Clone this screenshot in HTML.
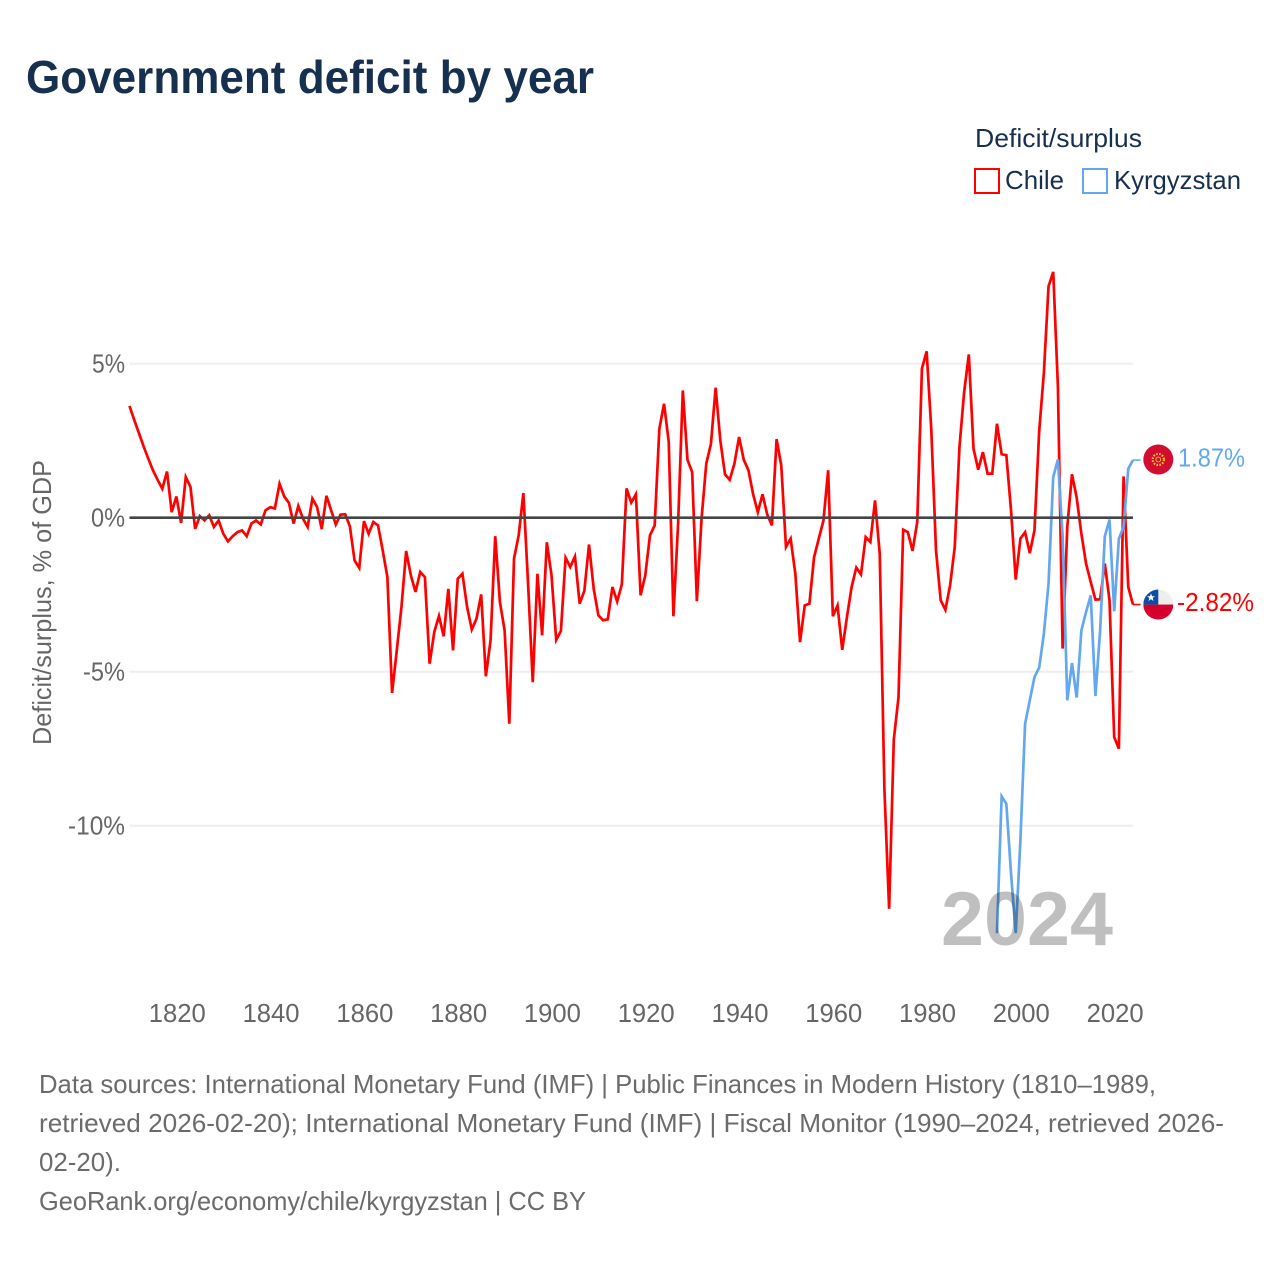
<!DOCTYPE html>
<html lang="en">
<head>
<meta charset="utf-8">
<title>Government deficit by year</title>
<style>
html,body{margin:0;padding:0;background:#fff;}
svg{display:block;font-family:"Liberation Sans",sans-serif;}
</style>
</head>
<body>
<svg id="chart" xmlns="http://www.w3.org/2000/svg" width="1280" height="1280" viewBox="0 0 1280 1280">
  <defs>
    <clipPath id="flag-clip-cl"><circle cx="1158.3" cy="0" r="15"/></clipPath>
  </defs>
  <rect x="0" y="0" width="1280" height="1280" fill="#fff"/>
  <text x="26" y="93" font-size="46" font-weight="700" fill="#18304f" textLength="568" lengthAdjust="spacingAndGlyphs">Government deficit by year</text>

  <g>
    <text x="975" y="147" font-size="26" fill="#18304f" textLength="167" lengthAdjust="spacingAndGlyphs">Deficit/surplus</text>
    <g>
      <rect x="975" y="169" width="24" height="24" fill="none" stroke="#ff0000" stroke-width="2"/>
      <text x="1005" y="189" font-size="26" fill="#18304f" textLength="59" lengthAdjust="spacingAndGlyphs">Chile</text>
    </g>
    <g>
      <rect x="1083" y="169" width="24" height="24" fill="none" stroke="#63a8ee" stroke-width="2"/>
      <text x="1114" y="189" font-size="26" fill="#18304f" textLength="127" lengthAdjust="spacingAndGlyphs">Kyrgyzstan</text>
    </g>
  </g>

  <text x="0" y="0" transform="translate(51 745) rotate(-90)" font-size="26" fill="#666" textLength="285" lengthAdjust="spacingAndGlyphs">Deficit/surplus, % of GDP</text>

  <g id="grid"></g>
  <g id="yticks"></g>
  <g id="xticks"></g>
  <g id="series"></g>
  <g id="zero"></g>
  <text x="941" y="945" font-size="76" font-weight="700" fill="#000" fill-opacity="0.25" textLength="172" lengthAdjust="spacingAndGlyphs">2024</text>
  <g id="ends"></g>

  <g font-size="26" fill="#6b6b6b">
    <text x="39" y="1093" textLength="1117" lengthAdjust="spacingAndGlyphs">Data sources: International Monetary Fund (IMF) | Public Finances in Modern History (1810–1989,</text>
    <text x="39" y="1132" textLength="1185" lengthAdjust="spacingAndGlyphs">retrieved 2026-02-20); International Monetary Fund (IMF) | Fiscal Monitor (1990–2024, retrieved 2026-</text>
    <text x="39" y="1171" textLength="82" lengthAdjust="spacingAndGlyphs">02-20).</text>
    <text x="39" y="1210" textLength="547" lengthAdjust="spacingAndGlyphs">GeoRank.org/economy/chile/kyrgyzstan | CC BY</text>
  </g>
</svg>

<script>
const chileStartYear = 1810;
const chileValues = [
  3.63,3.18,2.75,2.32,1.92,1.54,1.23,0.94,1.50,0.18,
  0.69,-0.17,1.32,1.00,-0.36,0.05,-0.09,0.08,-0.30,-0.09,
  -0.52,-0.77,-0.60,-0.47,-0.41,-0.60,-0.19,-0.09,-0.22,0.24,
  0.34,0.30,1.10,0.69,0.48,-0.19,0.38,-0.03,-0.30,0.62,
  0.35,-0.37,0.71,0.24,-0.22,0.10,0.11,-0.28,-1.39,-1.63,
  -0.11,-0.52,-0.14,-0.25,-1.06,-1.93,-5.69,-4.31,-2.90,-1.08,
  -1.87,-2.41,-1.76,-1.93,-4.74,-3.71,-3.19,-3.85,-2.31,-4.31,
  -1.98,-1.82,-2.90,-3.63,-3.28,-2.49,-5.15,-3.98,-0.60,-2.74,
  -3.66,-6.69,-1.33,-0.57,0.80,-2.14,-5.34,-1.82,-3.82,-0.80,
  -1.87,-3.97,-3.68,-1.30,-1.60,-1.26,-2.79,-2.38,-0.87,-2.31,
  -3.17,-3.33,-3.30,-2.25,-2.72,-2.16,0.95,0.49,0.76,-2.52,
  -1.87,-0.57,-0.25,2.89,3.70,2.46,-3.20,-0.19,4.13,1.88,
  1.48,-2.71,-0.03,1.75,2.40,4.22,2.51,1.41,1.23,1.75,
  2.62,1.88,1.54,0.76,0.18,0.76,0.11,-0.25,2.55,1.70,
  -0.95,-0.68,-1.82,-4.04,-2.85,-2.79,-1.28,-0.68,-0.09,1.54,
  -3.20,-2.85,-4.29,-3.23,-2.25,-1.62,-1.84,-0.63,-0.79,0.56,
  -1.17,-8.85,-12.70,-7.20,-5.83,-0.39,-0.47,-1.08,-0.14,4.84,
  5.40,2.84,-1.06,-2.68,-2.99,-2.20,-0.95,2.29,4.08,5.30,
  2.24,1.56,2.13,1.43,1.43,3.05,2.06,2.03,0.24,-2.01,
  -0.68,-0.47,-1.15,-0.41,2.80,4.70,7.51,7.98,4.24,-4.25,
  -0.30,1.41,0.65,-0.52,-1.49,-2.09,-2.66,-2.65,-1.49,-2.68,
  -7.12,-7.50,1.34,-2.25,-2.82
];
const kyrgyzStartYear = 1995;
const kyrgyzValues = [
  -13.49,-9.05,-9.29,-11.55,-13.49,-10.47,-6.69,-5.93,-5.17,-4.87,
  -3.77,-2.14,1.32,1.89,-0.60,-5.93,-4.72,-5.84,-3.66,-3.06,
  -2.52,-5.79,-3.66,-0.61,-0.06,-3.04,-0.68,-0.30,1.59,1.87
];
const xTickYears = [1820,1840,1860,1880,1900,1920,1940,1960,1980,2000,2020];
const yTickValues = [5,0,-5,-10];
const yTickLabels = ["5%","0%","-5%","-10%"];
const endLabels = ["-2.82%","1.87%"];

const NS = "http://www.w3.org/2000/svg";
function xScale(year){ return 129.5 + (year - 1810) * 4.689; }
function yScale(value){ return 517.7 - value * 30.8; }
function make(parent, tag, attrs, text){
  const el = document.createElementNS(NS, tag);
  for (const k in attrs) el.setAttribute(k, attrs[k]);
  if (text !== undefined) el.textContent = text;
  parent.appendChild(el);
  return el;
}
function pathFor(values, startYear){
  return values.map(function(v, i){
    return (i ? "L" : "M") + xScale(startYear + i).toFixed(2) + " " + yScale(v).toFixed(2);
  }).join("");
}

const gridG = document.getElementById("grid");
const yG = document.getElementById("yticks");
const xG = document.getElementById("xticks");
const seriesG = document.getElementById("series");
const zeroG = document.getElementById("zero");
const endsG = document.getElementById("ends");
const xMin = xScale(1810);
const xMax = xScale(2024);
const yTickWidths = {"5%":33,"0%":34,"-5%":42,"-10%":57};

yTickValues.forEach(function(v, i){
  if (v !== 0) {
    const gl = make(gridG, "line", {x1:xMin, x2:xMax, y1:yScale(v), y2:yScale(v), stroke:"#eeeeee", "stroke-width":2});
    
    
  }
  const label = yTickLabels[i];
  const t = make(yG, "text", {x:125 - yTickWidths[label], y:yScale(v) + 9, "font-size":26, fill:"#666", textLength:yTickWidths[label], lengthAdjust:"spacingAndGlyphs"}, label);
  
  
});

xTickYears.forEach(function(year){
  const t = make(xG, "text", {x:xScale(year) - 27.6, y:1022, "font-size":26, fill:"#666", textLength:57, lengthAdjust:"spacingAndGlyphs"}, String(year));
  
  
});

const chileLine = make(seriesG, "path", {d:pathFor(chileValues, chileStartYear), fill:"none", stroke:"#ff0000", "stroke-width":2.7, "stroke-linejoin":"miter", "stroke-miterlimit":4});



const kyrgyzLine = make(seriesG, "path", {d:pathFor(kyrgyzValues, kyrgyzStartYear), fill:"none", stroke:"#63a8ee", "stroke-width":2.7, "stroke-linejoin":"miter", "stroke-miterlimit":4});



const zeroLine = make(zeroG, "line", {x1:xMin, x2:xMax, y1:yScale(0), y2:yScale(0), stroke:"#444444", "stroke-width":2.6});



/* end-of-line labels and flags */
const chileLast = yScale(chileValues[chileValues.length - 1]);
const kyrgyzLast = yScale(kyrgyzValues[kyrgyzValues.length - 1]);

const chileConn = make(endsG, "line", {x1:xMax, x2:1140.5, y1:chileLast, y2:chileLast, stroke:"#ff0000", "stroke-width":1.6});



const kyrgyzConn = make(endsG, "line", {x1:xMax, x2:1140.5, y1:kyrgyzLast, y2:kyrgyzLast, stroke:"#63a8ee", "stroke-width":1.6});



document.querySelector("#flag-clip-cl circle").setAttribute("cy", chileLast);

const kgFlag = make(endsG, "g", {transform:"translate(1158.3 " + (kyrgyzLast - 0.6) + ")"});


const kgDisc = make(kgFlag, "circle", {cx:0, cy:0, r:15, fill:"#d30c32"});


const kgRays = make(kgFlag, "circle", {cx:0, cy:0, r:5.6, fill:"none", stroke:"#f7c531", "stroke-width":2.2, "stroke-dasharray":"1.6 1.4"});


const kgSun = make(kgFlag, "circle", {cx:0, cy:0, r:2.4, fill:"none", stroke:"#f0b13a", "stroke-width":1});



const clFlag = make(endsG, "g", {"clip-path":"url(#flag-clip-cl)"});


const clWhite = make(clFlag, "rect", {x:1143.3, y:chileLast - 15, width:30, height:15, fill:"#eeeeee"});


const clRed = make(clFlag, "rect", {x:1143.3, y:chileLast, width:30, height:15, fill:"#d5002b"});


const clBlue = make(clFlag, "rect", {x:1143.3, y:chileLast - 15, width:15, height:15, fill:"#0b4ea2"});


const clStar = make(clFlag, "polygon", {fill:"#fff", transform:"translate(1151 " + (chileLast - 7) + ")", points:"0,-4.2 1.1,-1.3 4,-1.3 1.7,0.5 2.5,3.4 0,1.7 -2.5,3.4 -1.7,0.5 -4,-1.3 -1.1,-1.3"});



const chileEnd = make(endsG, "text", {x:1177, y:chileLast + 6.5, "font-size":26, fill:"#ff0000", textLength:77, lengthAdjust:"spacingAndGlyphs"}, endLabels[0]);



const kyrgyzEnd = make(endsG, "text", {x:1178, y:kyrgyzLast + 6.5, "font-size":26, fill:"#63a8ee", textLength:67, lengthAdjust:"spacingAndGlyphs"}, endLabels[1]);


</script>
</body>
</html>
